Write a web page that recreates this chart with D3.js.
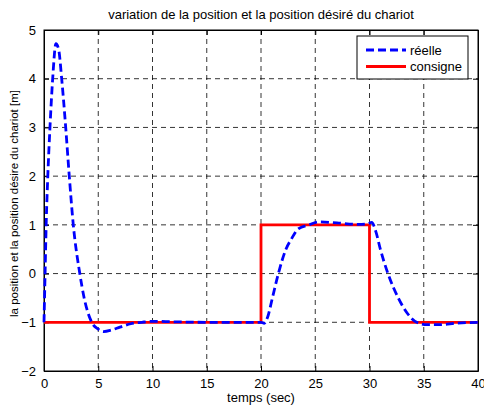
<!DOCTYPE html>
<html>
<head>
<meta charset="utf-8">
<script src="https://cdn.jsdelivr.net/npm/d3@7"></script>
<style>
  body { margin: 0; background: #fff; }
  text { font-family: "Liberation Sans", Arial, sans-serif; }
</style>
</head>
<body>
<div id="chart"></div>
<script>
var titleText = "variation de la position et la position désiré du chariot";
var xLabel = "temps (sec)";
var yLabel = "la position et la position désire du chariot [m]";
var xTicks = [0, 5, 10, 15, 20, 25, 30, 35, 40];
var yTicks = [-2, -1, 0, 1, 2, 3, 4, 5];

// position réelle
var reelT = [0, 0.05, 0.1, 0.2, 0.35, 0.55, 0.8, 1.1, 1.35, 1.63, 2.0, 2.33, 2.7, 3.3, 3.7, 4.4, 5.0, 5.5, 6.2, 7.0, 8.0, 9.0, 10.0, 12.0, 15.0,
             20.0, 20.3, 20.6, 21.05, 21.6, 22.3, 22.8, 23.4, 24.4, 25.4, 27.0, 29.0, 29.8, 30.2, 30.6, 31.0, 31.7, 32.65, 33.5, 34.35, 35.3, 36.5, 38.0, 40.0];
var reelV = [-1, -0.5, 0, 1, 2, 3, 4, 4.72, 4.6, 4, 3, 2, 1, 0, -0.5, -1, -1.14, -1.19, -1.16, -1.1, -1.03, -1.0, -0.98, -0.99, -1.0,
             -1.0, -1.02, -0.9, -0.5, 0, 0.5, 0.71, 0.91, 1.0, 1.06, 1.04, 1.01, 1.02, 1.05, 0.85, 0.5, 0, -0.5, -0.82, -1.0, -1.05, -1.05, -1.02, -1.0];

// consigne
var consT = [0, 20, 20, 30, 30, 40];
var consV = [-1, -1, 1, 1, -1, -1];

var W = 484, H = 409;
var margin = {top: 30, right: 6, bottom: 38, left: 44},
    width = W - margin.left - margin.right,
    height = H - margin.top - margin.bottom;

var svg = d3.select("#chart")
  .append("svg")
    .attr("width", W)
    .attr("height", H)
  .append("g")
    .attr("transform", "translate(" + margin.left + "," + margin.top + ")");

var x = d3.scaleLinear().domain([0, 40]).range([0, width]);
var y = d3.scaleLinear().domain([-2, 5]).range([height, 0]);

// grid
svg.append("g").selectAll("line")
  .data(xTicks.slice(1, -1))
  .enter().append("line")
    .attr("x1", d => x(d)).attr("x2", d => x(d))
    .attr("y1", 0).attr("y2", height)
    .attr("stroke", "#000").attr("stroke-width", 0.8)
    .attr("stroke-dasharray", "5,4");
svg.append("g").selectAll("line")
  .data(yTicks.slice(1, -1))
  .enter().append("line")
    .attr("y1", d => y(d)).attr("y2", d => y(d))
    .attr("x1", 0).attr("x2", width)
    .attr("stroke", "#000").attr("stroke-width", 0.8)
    .attr("stroke-dasharray", "5,4");

// axes
var fmt = d3.format("d");
svg.append("g")
  .attr("transform", "translate(0," + height + ")")
  .call(d3.axisBottom(x).tickValues(xTicks).tickFormat(fmt).tickSizeInner(-5).tickSizeOuter(0).tickPadding(8));
svg.append("g")
  .call(d3.axisLeft(y).tickValues(yTicks).tickFormat(fmt).tickSizeInner(-5).tickSizeOuter(0).tickPadding(8));
svg.append("g")
  .call(d3.axisTop(x).tickValues(xTicks).tickSizeInner(-5).tickSizeOuter(0).tickFormat(""));
svg.append("g")
  .attr("transform", "translate(" + width + ",0)")
  .call(d3.axisRight(y).tickValues(yTicks).tickSizeInner(-5).tickSizeOuter(0).tickFormat(""));
svg.selectAll(".tick text").attr("font-size", 13).attr("fill", "#000")
  .style("font-family", "Liberation Sans, Arial, sans-serif");
svg.selectAll(".domain").attr("stroke", "#000");

svg.append("rect")
  .attr("width", width).attr("height", height)
  .attr("fill", "none").attr("stroke", "#000").attr("stroke-width", 1);

// curves
var lineReel = d3.line()
  .x((d, i) => x(reelT[i]))
  .y(d => y(d))
  .curve(d3.curveMonotoneX);
var lineCons = d3.line()
  .x((d, i) => x(consT[i]))
  .y(d => y(d));

svg.append("path")
  .attr("d", lineCons(consV))
  .attr("fill", "none").attr("stroke", "#ff0000").attr("stroke-width", 2.8);

svg.append("path")
  .attr("d", lineReel(reelV))
  .attr("fill", "none").attr("stroke", "#0000ff").attr("stroke-width", 2.8)
  .attr("stroke-dasharray", "8,4");

// legend
var lg = svg.append("g").attr("transform", "translate(" + (357 - margin.left) + "," + (36 - margin.top) + ")");
lg.append("rect").attr("width", 111).attr("height", 43)
  .attr("fill", "#fff").attr("stroke", "#000").attr("stroke-width", 1);
lg.append("line").attr("x1", 9).attr("x2", 49).attr("y1", 14).attr("y2", 14)
  .attr("stroke", "#0000ff").attr("stroke-width", 2.8).attr("stroke-dasharray", "8,4");
lg.append("line").attr("x1", 9).attr("x2", 49).attr("y1", 30.5).attr("y2", 30.5)
  .attr("stroke", "#ff0000").attr("stroke-width", 2.8);
lg.append("text").attr("x", 53).attr("y", 18.5).attr("font-size", 13).text("réelle");
lg.append("text").attr("x", 53).attr("y", 35).attr("font-size", 13).text("consigne");

// labels
svg.append("text")
  .attr("x", width / 2).attr("y", -11)
  .attr("text-anchor", "middle").attr("font-size", 13)
  .text(titleText);
svg.append("text")
  .attr("x", width / 2).attr("y", height + 31)
  .attr("text-anchor", "middle").attr("font-size", 13)
  .text(xLabel);
svg.append("text")
  .attr("transform", "translate(" + (-26) + "," + (height / 2 + 3) + ") rotate(-90)")
  .attr("text-anchor", "middle").attr("font-size", 11.5)
  .text(yLabel);
</script>
</body>
</html>
